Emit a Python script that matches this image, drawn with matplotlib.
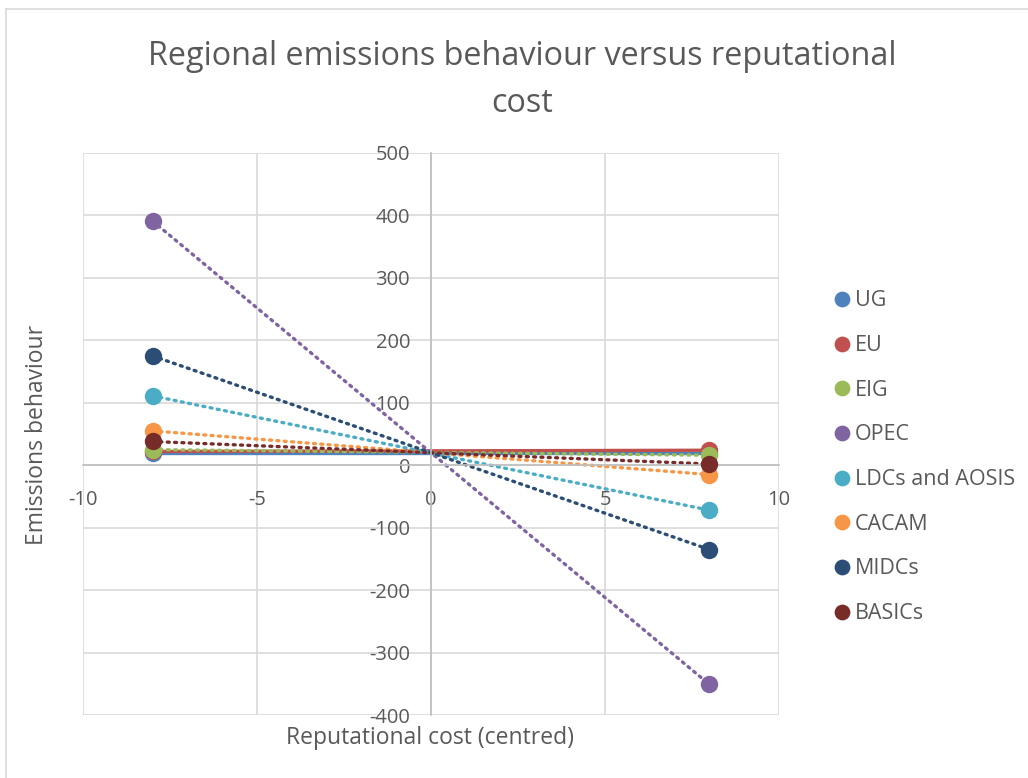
import numpy as np
import matplotlib
matplotlib.use("Agg")
from matplotlib import pyplot as plt
from matplotlib.lines import Line2D

plt.rcParams['font.family'] = ['Open Sans', 'DejaVu Sans']
plt.rcParams['axes.unicode_minus'] = False

# data: two points per region, at reputational cost -8 and +8
regions = ['UG', 'EU', 'EIG', 'OPEC', 'LDCs and AOSIS', 'CACAM', 'MIDCs', 'BASICs']
cost = [-8, 8]
ug = [19, 19]
eu = [22, 24]
eig = [25, 16]
opec = [391, -351]
ldcs = [111, -72]
cacam = [55, -15]
midcs = [175, -135]
basics = [38, 2]
series = [ug, eu, eig, opec, ldcs, cacam, midcs, basics]

colors = ['#4F81BD', '#C0504D', '#9BBB59', '#8064A2', '#4BACC6', '#F79646', '#2C4D75', '#772C2A']
styles = ['-', '-', ':', ':', ':', ':', ':', ':']

text_col = '#595959'

fig = plt.figure(figsize=(10.28, 7.78), dpi=100)
ax = fig.add_axes([83/1028, 1 - 715/778, 696/1028, 562/778])

# chart border (light gray, like Excel chart area)
fig.add_artist(Line2D([6/1028, 6/1028], [0, 1 - 9/778], color='#d9d9d9', lw=1.2))
fig.add_artist(Line2D([6/1028, 1], [1 - 9/778, 1 - 9/778], color='#d9d9d9', lw=1.2))

# trendlines first, markers on top
for vals, c, ls in zip(series, colors, styles):
    k, b = np.polyfit(cost, vals, 1)
    xs = np.array([-8, 8])
    ax.plot(xs, k * xs + b, color=c, lw=2.4, linestyle=ls if ls == '-' else (0, (0.6, 1.6)),
            dash_capstyle='round', solid_capstyle='butt', zorder=2)
for name, vals, c in zip(regions, series, colors):
    ax.plot(cost, vals, 'o', color=c, ms=11.5, label=name, zorder=3, mec=c)

ax.set_xlim(-10, 10)
ax.set_ylim(-400, 500)
ax.set_xticks([-10, -5, 0, 5, 10])
ax.set_yticks(np.arange(-400, 501, 100))
ax.grid(True, color='#d9d9d9', lw=1.2)
ax.set_axisbelow(True)

for s in ['top', 'right']:
    ax.spines[s].set_visible(False)
ax.spines['left'].set_position(('data', 0))
ax.spines['bottom'].set_position(('data', 0))
ax.spines['left'].set_color('#bfbfbf')
ax.spines['bottom'].set_color('#bfbfbf')
ax.spines['left'].set_linewidth(1.2)
ax.spines['bottom'].set_linewidth(1.2)
ax.tick_params(length=0, labelsize=14.5, labelcolor=text_col)
ax.tick_params(axis='x', pad=18)
ax.tick_params(axis='y', pad=15)

fig.text(37/1028, 1 - 435/778, 'Emissions behaviour', rotation=90, ha='center', va='center',
         fontsize=16.5, color=text_col)
fig.text(430/1028, 1 - 738/778, 'Reputational cost (centred)', ha='center', va='center',
         fontsize=16.5, color=text_col)
fig.text(522/1028, 1 - 80/778, 'Regional emissions behaviour versus reputational\ncost',
         ha='center', va='center', fontsize=23.3, color=text_col, linespacing=1.55)

leg = ax.legend(loc='upper left', bbox_to_anchor=(812/1028, 1 - 271/778), bbox_transform=fig.transFigure,
                frameon=False, fontsize=15.5, labelspacing=1.1, handletextpad=0.1, handlelength=1.0,
                markerscale=0.9)
for t in leg.get_texts():
    t.set_color(text_col)

fig.savefig('out.png', dpi=100)
